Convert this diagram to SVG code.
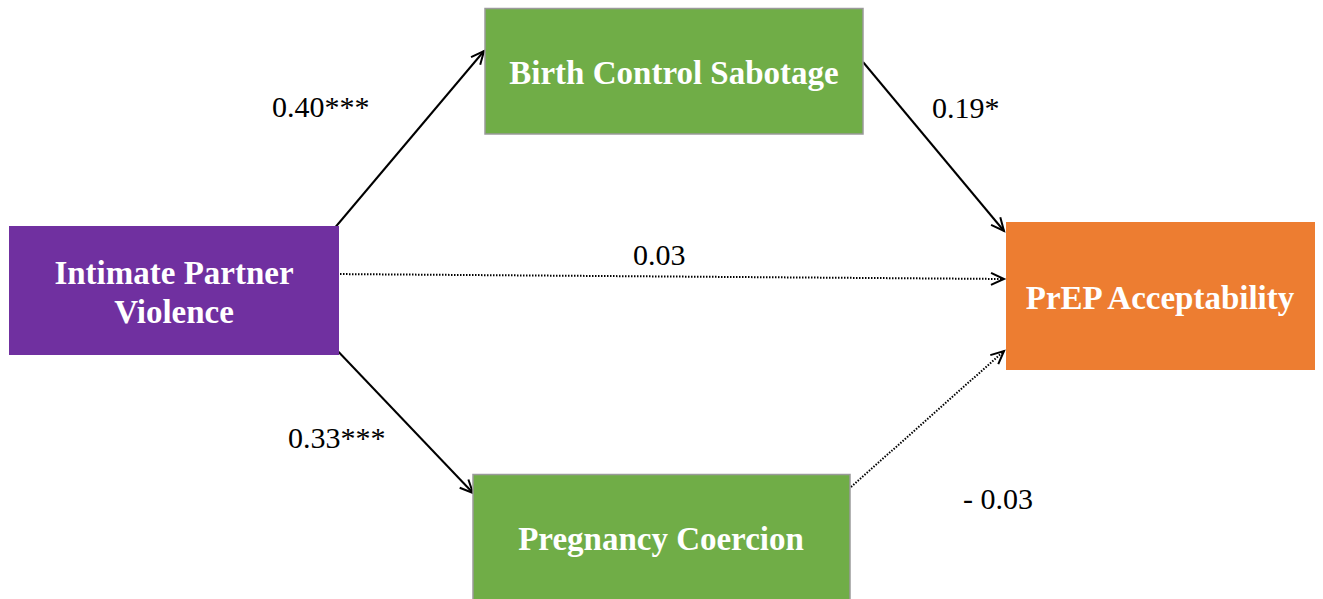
<svg xmlns="http://www.w3.org/2000/svg" width="1323" height="599" viewBox="0 0 1323 599">
<style>
.lbl{font-family:"Liberation Serif","Times New Roman",serif;font-size:30px;fill:#000}
.nt{font-family:"Liberation Serif","Times New Roman",serif;font-size:33px;font-weight:bold;fill:#fff;text-anchor:middle}
.c{stroke:#000;stroke-width:2;fill:none}
.d{stroke:#000;stroke-width:2;fill:none;stroke-dasharray:1.5 1.5}
</style>
<defs>
<marker id="ah" markerWidth="20" markerHeight="20" refX="14" refY="7" orient="auto" markerUnits="userSpaceOnUse">
<path d="M1,1 L14,7 L1,13" fill="none" stroke="#000" stroke-width="2"/>
</marker>
</defs>
<rect width="1323" height="599" fill="#fff"/>
<g id="connectors">
<line class="c" x1="333" y1="230" x2="484" y2="51" marker-end="url(#ah)"/>
<line class="c" x1="863" y1="62" x2="1004" y2="231" marker-end="url(#ah)"/>
<line class="d" x1="331" y1="274" x2="1004" y2="279" marker-end="url(#ah)"/>
<line class="d" x1="851" y1="487" x2="1004" y2="351" marker-end="url(#ah)"/>
<line class="c" x1="332" y1="345" x2="473" y2="493" marker-end="url(#ah)"/>
<text class="lbl" x="272" y="117">0.40***</text>
<text class="lbl" x="932" y="118">0.19*</text>
<text class="lbl" x="633" y="265">0.03</text>
<text class="lbl" x="288" y="448">0.33***</text>
<text class="lbl" x="963" y="509">- 0.03</text>
</g>
<g id="ipv">
<rect x="9" y="226" width="330" height="129" fill="#7030A0"/>
<text class="nt" x="174" y="284">Intimate Partner</text>
<text class="nt" x="174" y="323">Violence</text>
</g>
<g id="bcs">
<rect x="485" y="8.5" width="378" height="125.5" fill="#70AD47" stroke="#9a9a9a" stroke-width="1.5"/>
<text class="nt" x="674" y="84">Birth Control Sabotage</text>
</g>
<g id="pc">
<rect x="473" y="474.5" width="377" height="140" fill="#70AD47" stroke="#9a9a9a" stroke-width="1.5"/>
<text class="nt" x="661" y="550">Pregnancy Coercion</text>
</g>
<g id="prep">
<rect x="1006" y="222" width="309" height="148" fill="#ED7D31"/>
<text class="nt" x="1160" y="309">PrEP Acceptability</text>
</g>
</svg>
